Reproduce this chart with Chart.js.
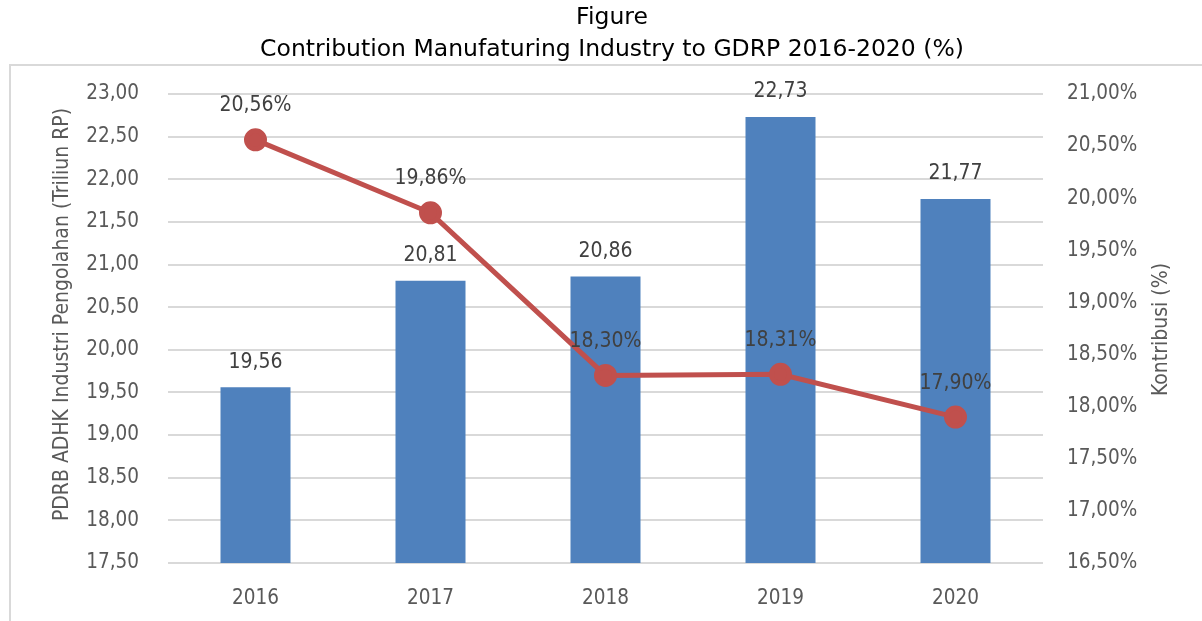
<!DOCTYPE html>
<html>
<head>
<meta charset="utf-8">
<script src="https://cdn.jsdelivr.net/npm/chart.js@4.4.1/dist/chart.umd.min.js"></script>
<style>
  html, body { margin: 0; padding: 0; background: #fff; }
  canvas { display: block; }
</style>
</head>
<body>
<canvas id="chart1" width="1202" height="621"></canvas>
<script>
const years = ["2016", "2017", "2018", "2019", "2020"];
const pdrb = [19.56, 20.81, 20.86, 22.73, 21.77];
const kontribusi = [20.56, 19.86, 18.30, 18.31, 17.90];
const titleLines = ["Figure", "Contribution Manufaturing Industry to GDRP 2016-2020 (%)"];
const leftAxisTitle = "PDRB ADHK Industri Pengolahan (Triliun RP)";
const rightAxisTitle = "Kontribusi (%)";

const fontFamily = "'DejaVu Sans Condensed', 'DejaVu Sans', sans-serif";
const comma = (v) => v.toFixed(2).replace(".", ",");

function rotatedText(ctx, text, x, y) {
    ctx.save();
    ctx.translate(x, y);
    ctx.rotate(-Math.PI / 2);
    ctx.fillText(text, 0, 0);
    ctx.restore();
}

// outer frame, titles and the value labels above bars and points
const decorations = {
    id: "decorations",
    beforeDraw(chart) {
        const ctx = chart.ctx;
        const area = chart.chartArea;
        ctx.save();
        ctx.strokeStyle = "#d9d9d9";
        ctx.lineWidth = 2;
        ctx.strokeRect(10, 65, 1300, 700);

        ctx.fillStyle = "#000";
        ctx.font = "23.5px 'DejaVu Sans', sans-serif";
        ctx.textAlign = "center";
        ctx.textBaseline = "middle";
        ctx.fillText(titleLines[0], 612, 18);
        ctx.fillText(titleLines[1], 612, 50);

        ctx.fillStyle = "#595959";
        ctx.font = "21px " + fontFamily;
        rotatedText(ctx, leftAxisTitle, 63, (area.top + area.bottom) / 2 - 14);
        rotatedText(ctx, rightAxisTitle, 1162, (area.top + area.bottom) / 2 + 1);
        ctx.restore();
    },
    afterDatasetsDraw(chart) {
        const ctx = chart.ctx;
        ctx.save();
        ctx.font = "21px " + fontFamily;
        ctx.fillStyle = "#404040";
        ctx.textAlign = "center";
        ctx.textBaseline = "middle";
        chart.getDatasetMeta(1).data.forEach((bar, i) => {
            ctx.fillText(comma(pdrb[i]), bar.x, bar.y - 25);
        });
        chart.getDatasetMeta(0).data.forEach((pt, i) => {
            ctx.fillText(comma(kontribusi[i]) + "%", pt.x, pt.y - 34);
        });
        ctx.restore();
    }
};

new Chart("chart1", {
    type: "bar",
    data: {
        labels: years,
        datasets: [{
            type: "line",
            data: kontribusi,
            yAxisID: "y1",
            borderColor: "#C0504D",
            backgroundColor: "#C0504D",
            borderWidth: 5,
            pointRadius: 9,
            pointHoverRadius: 9,
            order: 0
        }, {
            type: "bar",
            data: pdrb,
            yAxisID: "y",
            backgroundColor: "#4F81BD",
            categoryPercentage: 0.4,
            barPercentage: 1,
            order: 1
        }]
    },
    options: {
        responsive: false,
        animation: false,
        devicePixelRatio: 1,
        layout: { padding: { top: 94, left: 0, right: 0, bottom: 0 } },
        plugins: { legend: { display: false }, tooltip: { enabled: false } },
        scales: {
            x: {
                grid: { display: false },
                border: { display: false },
                ticks: { color: "#595959", font: { family: fontFamily, size: 20.5 }, padding: 15 },
                afterFit: (s) => { s.height = 58; }
            },
            y: {
                position: "left",
                min: 17.5,
                max: 23,
                grid: { color: "#d9d9d9", lineWidth: 2, drawTicks: false },
                border: { display: false },
                ticks: {
                    stepSize: 0.5,
                    color: "#595959",
                    font: { family: fontFamily, size: 20.5 },
                    padding: 29,
                    callback: (v) => comma(v)
                },
                afterFit: (s) => { s.width = 168; }
            },
            y1: {
                position: "right",
                min: 16.5,
                max: 21,
                grid: { display: false },
                border: { display: false },
                ticks: {
                    stepSize: 0.5,
                    color: "#595959",
                    font: { family: fontFamily, size: 20.5 },
                    padding: 16,
                    callback: (v) => comma(v) + "%"
                },
                afterFit: (s) => { s.width = 159; }
            }
        }
    },
    plugins: [decorations]
});
</script>
</body>
</html>
